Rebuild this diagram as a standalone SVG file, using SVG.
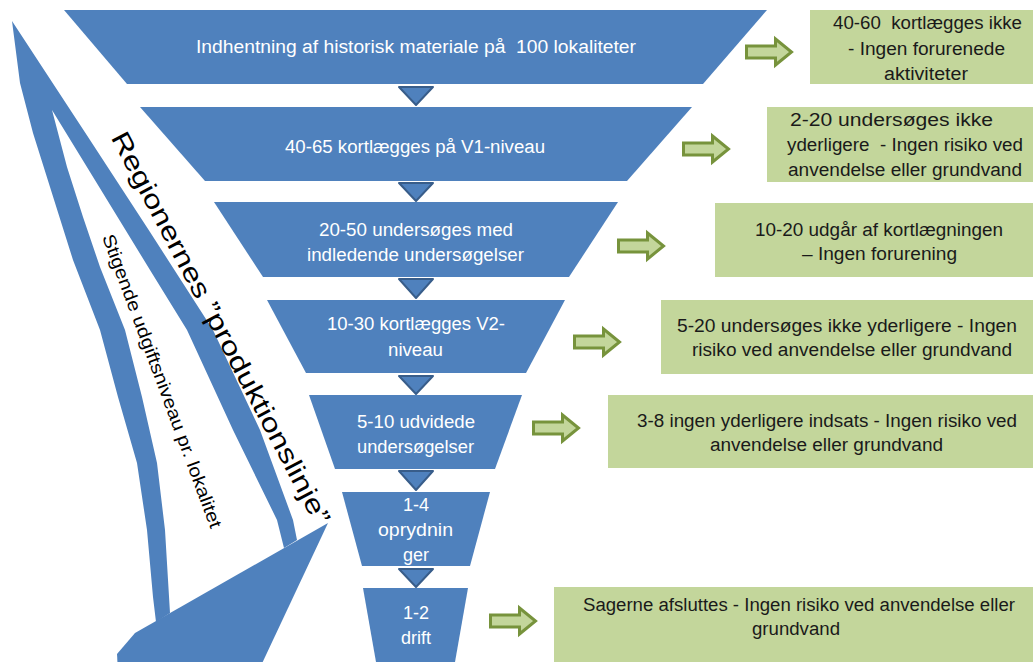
<svg xmlns="http://www.w3.org/2000/svg" width="1033" height="662" viewBox="0 0 1033 662">
<style>
.fun{fill:#4f81bd}
.tri{fill:#4f81bd;stroke:#385d8a;stroke-width:2;stroke-linejoin:round}
.box{fill:#c3d69b}
.arr{fill:#c3d69b;stroke:#77933c;stroke-width:3;stroke-linejoin:miter}
.wt{fill:#ffffff;font-family:"Liberation Sans",Arial,sans-serif;font-size:18px}
.bt{fill:#1a1a1a;font-family:"Liberation Sans",Arial,sans-serif;font-size:18px}
.lt{fill:#000000;font-family:"Liberation Sans",Arial,sans-serif}
</style>
<defs>
<path id="garrow" d="M0,-6 H29 V-13 L45,0 L29,13 V6 H0 Z"/>
</defs>
<rect width="1033" height="662" fill="#ffffff"/>

<g id="left-arrows">
<path class="fun" d="M12,21 L20,83 L33,133 L50,187 L73,260 L100,330 L118,397 L137,463 L147,530 L153,597 L156,622 L170,613 L165,530 L157,463 L142,397 L125,330 L100,267 L83,217 L67,167 L52,110 L90,172 L120,221 L150,270 L187,330 L233,430 L277,520 L284,548 L297,540 L293,520 L260,430 L213,330 L150,232 L90,140 Z"/>
<polygon class="fun" points="328,523 135,633 117,654 118,672 258,672"/>
<text class="lt" font-size="26" text-anchor="middle" dominant-baseline="central" textLength="440" lengthAdjust="spacingAndGlyphs" transform="translate(221,328) rotate(62.2)">Regionernes ”produktionslinje”</text>
<text class="lt" font-size="18" text-anchor="middle" dominant-baseline="central" textLength="312" lengthAdjust="spacingAndGlyphs" transform="translate(162,381) rotate(69.6)">Stigende udgiftsniveau pr. lokalitet</text>
</g>

<g id="connectors">
<polygon class="tri" points="399,87 433,87 416,105"/>
<polygon class="tri" points="399,183 433,183 416,201"/>
<polygon class="tri" points="399,279 433,279 416,298"/>
<polygon class="tri" points="399,376 433,376 416,394"/>
<polygon class="tri" points="399,471 433,471 416,490"/>
<polygon class="tri" points="399,569 433,569 416,587"/>
<use href="#garrow" class="arr" transform="translate(746.5,52)"/>
<use href="#garrow" class="arr" transform="translate(683.5,149)"/>
<use href="#garrow" class="arr" transform="translate(618.5,246)"/>
<use href="#garrow" class="arr" transform="translate(574.5,342)"/>
<use href="#garrow" class="arr" transform="translate(533.5,428)"/>
<use href="#garrow" class="arr" transform="translate(490.5,621)"/>
</g>

<g id="stage1">
<polygon class="fun" points="64,10 767,10 703,84 127,84"/>
<text class="wt" x="196" y="53" textLength="440" lengthAdjust="spacingAndGlyphs" xml:space="preserve">Indhentning af historisk materiale på  100 lokaliteter</text>
</g>
<g id="stage2">
<polygon class="fun" points="140,107 692,107 627,181 205,181"/>
<text class="wt" x="285" y="153" textLength="260" lengthAdjust="spacingAndGlyphs">40-65 kortlægges på V1-niveau</text>
</g>
<g id="stage3">
<polygon class="fun" points="214,202 618,202 569,277 263,277"/>
<text class="wt" x="319" y="236" textLength="194" lengthAdjust="spacingAndGlyphs">20-50 undersøges med</text>
<text class="wt" x="307" y="261" textLength="217" lengthAdjust="spacingAndGlyphs">indledende undersøgelser</text>
</g>
<g id="stage4">
<polygon class="fun" points="267,300 565,300 526,373 306,373"/>
<text class="wt" x="327" y="330" textLength="178" lengthAdjust="spacingAndGlyphs">10-30 kortlægges V2-</text>
<text class="wt" x="388" y="356" textLength="55" lengthAdjust="spacingAndGlyphs">niveau</text>
</g>
<g id="stage5">
<polygon class="fun" points="309,395 522,395 495,469 335,469"/>
<text class="wt" x="357" y="428" textLength="118" lengthAdjust="spacingAndGlyphs">5-10 udvidede</text>
<text class="wt" x="357" y="453" textLength="117" lengthAdjust="spacingAndGlyphs">undersøgelser</text>
</g>
<g id="stage6">
<polygon class="fun" points="342,492 490,492 470,566 362,566"/>
<text class="wt" x="416" y="511" text-anchor="middle">1-4</text>
<text class="wt" x="378" y="536" textLength="75" lengthAdjust="spacingAndGlyphs">oprydnin</text>
<text class="wt" x="416" y="561" text-anchor="middle">ger</text>
</g>
<g id="stage7">
<polygon class="fun" points="363,588 468,588 455,662 376,662"/>
<text class="wt" x="416" y="619" text-anchor="middle">1-2</text>
<text class="wt" x="416" y="644" text-anchor="middle">drift</text>
</g>

<g id="box1">
<rect class="box" x="810" y="10" width="230" height="74"/>
<text class="bt" x="833" y="29" textLength="189" lengthAdjust="spacingAndGlyphs" xml:space="preserve">40-60  kortlægges ikke</text>
<text class="bt" x="848" y="55" textLength="157" lengthAdjust="spacingAndGlyphs">- Ingen forurenede</text>
<text class="bt" x="884" y="80" textLength="84" lengthAdjust="spacingAndGlyphs">aktiviteter</text>
</g>
<g id="box2">
<rect class="box" x="767" y="107" width="270" height="75"/>
<text class="bt" x="790" y="126" textLength="203" lengthAdjust="spacingAndGlyphs">2-20 undersøges ikke</text>
<text class="bt" x="787" y="151" textLength="236" lengthAdjust="spacingAndGlyphs" xml:space="preserve">yderligere  - Ingen risiko ved</text>
<text class="bt" x="788" y="176" textLength="234" lengthAdjust="spacingAndGlyphs">anvendelse eller grundvand</text>
</g>
<g id="box3">
<rect class="box" x="715" y="203" width="320" height="74"/>
<text class="bt" x="755" y="236" textLength="248" lengthAdjust="spacingAndGlyphs">10-20 udgår af kortlægningen</text>
<text class="bt" x="802" y="260" textLength="155" lengthAdjust="spacingAndGlyphs">– Ingen forurening</text>
</g>
<g id="box4">
<rect class="box" x="661" y="300" width="375" height="74"/>
<text class="bt" x="677" y="332" textLength="340" lengthAdjust="spacingAndGlyphs">5-20 undersøges ikke yderligere - Ingen</text>
<text class="bt" x="692" y="356" textLength="320" lengthAdjust="spacingAndGlyphs">risiko ved anvendelse eller grundvand</text>
</g>
<g id="box5">
<rect class="box" x="608" y="395" width="430" height="73"/>
<text class="bt" x="637" y="427" textLength="380" lengthAdjust="spacingAndGlyphs">3-8 ingen yderligere indsats - Ingen risiko ved</text>
<text class="bt" x="710" y="451" textLength="233" lengthAdjust="spacingAndGlyphs">anvendelse eller grundvand</text>
</g>
<g id="box6">
<rect class="box" x="554" y="587" width="480" height="80"/>
<text class="bt" x="583" y="611" textLength="432" lengthAdjust="spacingAndGlyphs">Sagerne afsluttes - Ingen risiko ved anvendelse eller</text>
<text class="bt" x="752" y="635" textLength="88" lengthAdjust="spacingAndGlyphs">grundvand</text>
</g>
</svg>
